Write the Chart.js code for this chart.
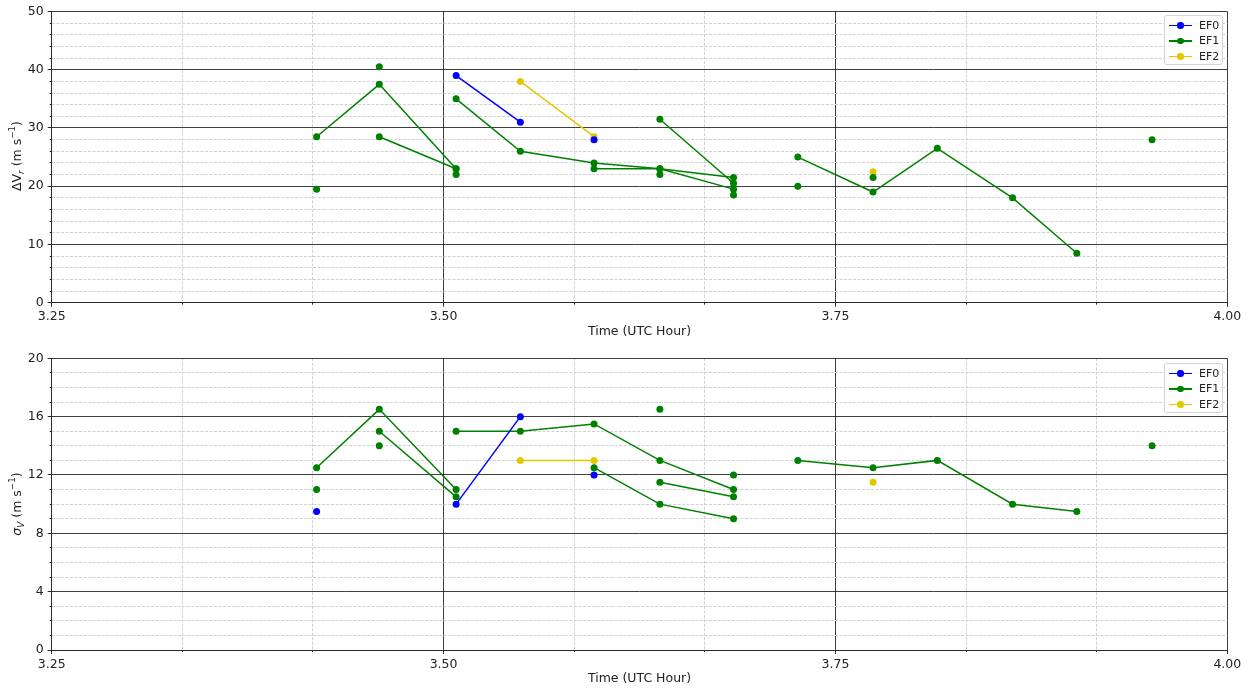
<!DOCTYPE html>
<html>
<head>
<meta charset="utf-8">
<script src="https://cdn.jsdelivr.net/npm/chart.js@4/dist/chart.umd.min.js"></script>
<style>
  body { margin: 0; background: #fff; font-family: 'DejaVu Sans', sans-serif; }
  #page { position: relative; width: 1253px; height: 691px; overflow: hidden; }
  canvas { position: absolute; left: 0; }
  .ytitle {
    position: absolute; white-space: nowrap; font-size: 12.5px; color: #222;
    transform: translate(-50%, -50%) rotate(-90deg);
  }
  .ytitle sub, .ytitle sup { font-size: 0.7em; line-height: 0; }
  .legend {
    position: absolute; left: 1164px; width: 57px; height: 48px;
    border: 1px solid #d4d4d4; border-radius: 3px; background: rgba(255,255,255,0.8);
    font-size: 11px; color: #222;
  }
  .legend .row { position: absolute; left: 0; width: 57px; height: 15px; }
  .legend .ln { position: absolute; left: 4px; top: 7px; width: 23px; height: 1.5px; }
  .legend .dot { position: absolute; left: 12.3px; top: 4.5px; width: 6.5px; height: 6.5px; border-radius: 50%; }
  .legend .txt { position: absolute; left: 34px; top: 0; line-height: 15px; }
</style>
</head>
<body>
<div id="page">
  <canvas id="dvrChart" width="1253" height="345" style="top:0"></canvas>
  <canvas id="sigmaChart" width="1253" height="346" style="top:345px"></canvas>
  <div class="ytitle" style="left:16px;top:156px">ΔV<sub><i>r</i></sub> (m s<sup>−1</sup>)</div>
  <div class="ytitle" style="left:16px;top:504px"><i>σ</i><sub><i>V</i></sub> (m s<sup>−1</sup>)</div>
  <div class="legend" id="legendTop" style="top:15px"></div>
  <div class="legend" id="legendBottom" style="top:363px"></div>
</div>
<script>
// scan times (UTC hour)
const scanTimes = [3.419, 3.459, 3.508, 3.549, 3.596, 3.638, 3.685, 3.726, 3.774, 3.815, 3.863, 3.904, 3.952];

const categories = ['EF0', 'EF1', 'EF2'];
const catColors = ['#0000ff', '#008000', '#e3c800'];

// tracks: [index of first scan, values on consecutive scans]
const dvrEF0 = [[2, [39, 31]], [4, [28]]];
const dvrEF1 = [
  [0, [28.5, 37.5, 23]], [1, [28.5, 23]], [2, [35, 26, 24, 23, 19.5]],
  [4, [23, 23, 21.5]], [5, [31.5, 20.5]], [7, [25, 19, 26.5, 18, 8.5]],
  [0, [19.5]], [1, [40.5]], [2, [22]], [5, [22]], [6, [18.5]], [7, [20]], [8, [21.5]], [12, [28]]
];
const dvrEF2 = [[3, [38, 28.5]], [8, [22.5]]];

const sigmaEF0 = [[2, [10, 16]], [0, [9.5]], [4, [12]]];
const sigmaEF1 = [
  [0, [12.5, 16.5, 11]], [1, [15, 10.5]], [2, [15, 15, 15.5, 13, 11]],
  [4, [12.5, 10, 9]], [5, [11.5, 10.5]], [7, [13, 12.5, 13, 10, 9.5]],
  [0, [11]], [1, [14]], [5, [16.5]], [6, [12]], [12, [14]]
];
const sigmaEF2 = [[3, [13, 13]], [8, [11.5]]];

const xMajorTicks = [3.25, 3.5, 3.75, 4.0];

const TEXT = '#222';
const AXIS = '#2a2a2a';
const MAJOR = 'rgba(0,0,0,0.75)';
const MINOR = '#d2d2d2';
const FONT = { family: 'DejaVu Sans', size: 12.5 };

const minorX = [];
for (let k = 39; k <= 48; k++) minorX.push(k / 12);
const isMajorX = v => xMajorTicks.some(m => Math.abs(m - v) < 1e-6);

function makeChart(id, series, yMax, yStep, yMinorStep, padTop, xHeight, titlePad) {
    const datasets = [];
    series.forEach((tracks, c) => {
        tracks.forEach(([start, vals]) => {
            datasets.push({
                label: categories[c],
                data: vals.map((v, i) => ({ x: scanTimes[start + i], y: v })),
                showLine: true,
                borderColor: catColors[c],
                backgroundColor: catColors[c],
                borderWidth: 1.5,
                pointRadius: 3.5,
                pointHoverRadius: 3.5,
                pointBorderWidth: 0,
                order: c === 0 ? 0 : (c === 1 ? 1 : 2)
            });
        });
    });
    const isMajorY = v => Math.abs(v / yStep - Math.round(v / yStep)) < 1e-6;
    return new Chart(document.getElementById(id), {
        type: 'scatter',
        data: { datasets },
        options: {
            responsive: false,
            animation: false,
            events: [],
            layout: { padding: { left: 0, right: 25.7, top: padTop, bottom: 0 } },
            plugins: { legend: { display: false }, tooltip: { enabled: false } },
            scales: {
                x: {
                    type: 'linear', position: 'bottom', weight: 1, min: 3.25, max: 4,
                    afterBuildTicks: s => { s.ticks = xMajorTicks.map(v => ({ value: v })); },
                    ticks: { callback: v => v.toFixed(2), color: TEXT, font: FONT, padding: 3, maxRotation: 0, autoSkip: false },
                    grid: { color: MAJOR, lineWidth: 1, tickLength: 4, tickColor: AXIS },
                    border: { display: true, color: AXIS, width: 1 },
                    title: { display: true, text: 'Time (UTC Hour)', color: TEXT, font: FONT, padding: { top: 0, bottom: titlePad } },
                    afterFit: s => { s.height = xHeight; }
                },
                xMinor: {
                    type: 'linear', position: 'bottom', weight: 0, min: 3.25, max: 4,
                    afterBuildTicks: s => { s.ticks = minorX.map(v => ({ value: v })); },
                    ticks: { display: false },
                    grid: {
                        color: ctx => isMajorX(ctx.tick.value) ? 'rgba(0,0,0,0)' : MINOR,
                        tickColor: ctx => isMajorX(ctx.tick.value) ? 'rgba(0,0,0,0)' : AXIS,
                        lineWidth: 1, tickLength: 2
                    },
                    border: { display: false, dash: [3, 1.5] },
                    afterFit: s => { s.height = 0; }
                },
                y: {
                    position: 'left', weight: 1, min: 0, max: yMax,
                    ticks: { stepSize: yStep, color: TEXT, font: FONT, padding: 4 },
                    grid: { color: MAJOR, lineWidth: 1, tickLength: 4, tickColor: AXIS },
                    border: { display: true, color: AXIS, width: 1 },
                    afterFit: s => { s.width = 51.7; }
                },
                yMinor: {
                    position: 'left', weight: 0, min: 0, max: yMax,
                    ticks: { display: false, stepSize: yMinorStep },
                    grid: {
                        color: ctx => isMajorY(ctx.tick.value) ? 'rgba(0,0,0,0)' : MINOR,
                        tickColor: ctx => isMajorY(ctx.tick.value) ? 'rgba(0,0,0,0)' : AXIS,
                        lineWidth: 1, tickLength: 2
                    },
                    border: { display: false, dash: [3, 1.5] },
                    afterFit: s => { s.width = 0; }
                }
            }
        }
    });
}

function buildLegend(el) {
    categories.forEach((cat, i) => {
        const row = document.createElement('div');
        row.className = 'row';
        row.style.top = (1.8 + i * 15.5) + 'px';
        row.innerHTML = '<span class="ln" style="background:' + catColors[i] + '"></span>' +
            '<span class="dot" style="background:' + catColors[i] + '"></span>' +
            '<span class="txt">' + cat + '</span>';
        el.appendChild(row);
    });
}

makeChart('dvrChart', [dvrEF0, dvrEF1, dvrEF2], 50, 10, 2, 10, 42.3, 6);
makeChart('sigmaChart', [sigmaEF0, sigmaEF1, sigmaEF2], 20, 4, 1, 13.3, 41, 4.5);
buildLegend(document.getElementById('legendTop'));
buildLegend(document.getElementById('legendBottom'));
</script>
</body>
</html>
